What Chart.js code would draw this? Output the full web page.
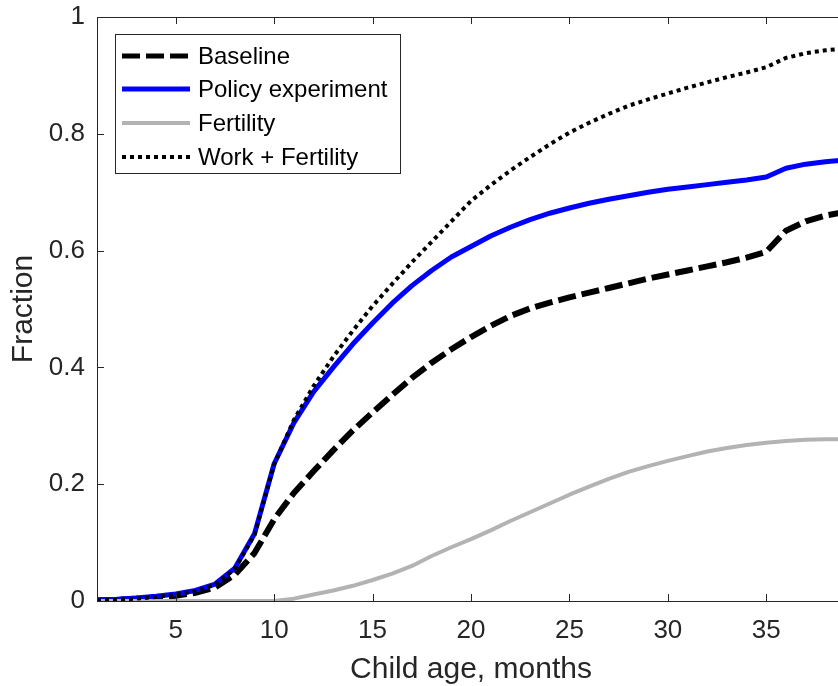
<!DOCTYPE html>
<html>
<head>
<meta charset="utf-8">
<script src="https://cdn.jsdelivr.net/npm/chart.js@4/dist/chart.umd.min.js"></script>
<style>
  html, body { margin: 0; padding: 0; background: #fff; overflow: hidden; }
  #wrap { width: 850px; height: 686px; }
</style>
</head>
<body>
<div id="wrap"><canvas id="chart" width="850" height="686"></canvas></div>
<script>
// child age in months
var months = [1, 2, 3, 4, 5, 6, 7, 8, 9, 10, 11, 12, 13, 14, 15, 16, 17, 18, 19, 20,
  21, 22, 23, 24, 25, 26, 27, 28, 29, 30, 31, 32, 33, 34, 35, 36, 37, 38, 39];

var baseline = [0.001, 0.002, 0.004, 0.006, 0.009, 0.014, 0.023, 0.045, 0.082, 0.14,
  0.185, 0.222, 0.258, 0.292, 0.323, 0.353, 0.382, 0.408, 0.431, 0.452,
  0.471, 0.488, 0.501, 0.511, 0.52, 0.528, 0.536, 0.544, 0.552, 0.559,
  0.566, 0.573, 0.58, 0.588, 0.598, 0.634, 0.65, 0.66, 0.666];

var policy = [0.002, 0.003, 0.005, 0.008, 0.012, 0.018, 0.029, 0.056, 0.115, 0.235,
  0.305, 0.358, 0.4, 0.44, 0.476, 0.51, 0.54, 0.566, 0.589, 0.607,
  0.625, 0.64, 0.653, 0.664, 0.673, 0.681, 0.688, 0.694, 0.7, 0.705,
  0.709, 0.713, 0.717, 0.721, 0.726, 0.741, 0.748, 0.752, 0.755];

var fertility = [0, 0, 0, 0, 0, 0, 0, 0, 0, 0,
  0.004, 0.011, 0.018, 0.026, 0.036, 0.047, 0.06, 0.077, 0.092, 0.106,
  0.121, 0.137, 0.152, 0.167, 0.182, 0.196, 0.209, 0.221, 0.231, 0.24,
  0.248, 0.256, 0.262, 0.267, 0.271, 0.274, 0.276, 0.277, 0.277];

var workFertility = [0.001, 0.002, 0.004, 0.007, 0.011, 0.017, 0.028, 0.055, 0.113, 0.234,
  0.31, 0.368, 0.418, 0.463, 0.505, 0.543, 0.58, 0.615, 0.65, 0.685,
  0.712, 0.737, 0.76, 0.782, 0.802, 0.819, 0.834, 0.848, 0.859, 0.869,
  0.879, 0.888, 0.897, 0.905, 0.914, 0.93, 0.938, 0.943, 0.946];

var xTicks = [5, 10, 15, 20, 25, 30, 35];
var yTicks = [0, 0.2, 0.4, 0.6, 0.8, 1];

var axisColor = '#262626';
var fontFamily = '"Liberation Sans", Arial, sans-serif';

function pts(ys) {
  return months.map(function (m, i) { return {x: m, y: ys[i]}; });
}

// matlab style box with inward ticks
var frame = {
  id: 'frame',
  afterDatasetsDraw: function (chart) {
    var ctx = chart.ctx, a = chart.chartArea;
    var xs = chart.scales.x, ys = chart.scales.y;
    var len = 7;
    ctx.save();
    ctx.strokeStyle = axisColor;
    ctx.lineWidth = 1;
    ctx.strokeRect(a.left + 0.5, a.top + 0.5, a.right - a.left, a.bottom - a.top);
    ctx.beginPath();
    xTicks.forEach(function (v) {
      var px = Math.round(xs.getPixelForValue(v)) + 0.5;
      ctx.moveTo(px, a.bottom); ctx.lineTo(px, a.bottom - len);
      ctx.moveTo(px, a.top); ctx.lineTo(px, a.top + len);
    });
    yTicks.forEach(function (v) {
      var py = Math.round(ys.getPixelForValue(v)) + 0.5;
      ctx.moveTo(a.left, py); ctx.lineTo(a.left + len, py);
      ctx.moveTo(a.right, py); ctx.lineTo(a.right - len, py);
    });
    ctx.stroke();
    ctx.restore();
  }
};

// legend box in the upper left of the plot
var boxLegend = {
  id: 'boxLegend',
  afterDraw: function (chart) {
    var ctx = chart.ctx;
    var x0 = 115, y0 = 34, w = 285, h = 139;
    var rowY = [56, 89, 123, 157];
    ctx.save();
    ctx.fillStyle = '#fff';
    ctx.fillRect(x0, y0, w, h);
    ctx.strokeStyle = axisColor;
    ctx.lineWidth = 1;
    ctx.strokeRect(x0 + 0.5, y0 + 0.5, w, h);
    chart.data.datasets.forEach(function (ds, i) {
      var y = rowY[i];
      ctx.beginPath();
      ctx.strokeStyle = ds.borderColor;
      ctx.lineWidth = ds.legendWidth;
      ctx.setLineDash(ds.borderDash || []);
      ctx.lineCap = 'butt';
      ctx.moveTo(122, y);
      ctx.lineTo(190, y);
      ctx.stroke();
      ctx.setLineDash([]);
      ctx.fillStyle = '#000';
      ctx.font = '24px ' + fontFamily;
      ctx.textBaseline = 'middle';
      ctx.textAlign = 'left';
      ctx.fillText(ds.label, 198, y + 1);
    });
    ctx.restore();
  }
};

new Chart(document.getElementById('chart'), {
  type: 'line',
  data: {
    datasets: [
      {label: 'Baseline', data: pts(baseline), borderColor: '#000000', borderWidth: 6,
        borderDash: [18, 6], legendWidth: 5, order: 4},
      {label: 'Policy experiment', data: pts(policy), borderColor: '#0000ff', borderWidth: 5,
        legendWidth: 5, order: 3},
      {label: 'Fertility', data: pts(fertility), borderColor: '#b3b3b3', borderWidth: 4,
        legendWidth: 4, order: 2},
      {label: 'Work + Fertility', data: pts(workFertility), borderColor: '#000000', borderWidth: 4,
        borderDash: [4, 4], legendWidth: 4, order: 1}
    ]
  },
  options: {
    responsive: false,
    animation: false,
    events: [],
    layout: {padding: {left: 0, top: 17, right: 5, bottom: 0}},
    elements: {
      point: {radius: 0},
      line: {tension: 0, fill: false, borderJoinStyle: 'round', borderCapStyle: 'butt'}
    },
    plugins: {
      legend: {display: false},
      tooltip: {enabled: false}
    },
    scales: {
      x: {
        type: 'linear',
        min: 1,
        max: 39,
        grid: {display: false, drawTicks: false},
        border: {display: false},
        afterBuildTicks: function (s) { s.ticks = xTicks.map(function (v) { return {value: v}; }); },
        afterFit: function (s) { s.height = 85; s.paddingLeft = 0; s.paddingRight = 0; },
        ticks: {color: axisColor, padding: 14, maxRotation: 0, font: {family: fontFamily, size: 26}},
        title: {display: true, text: 'Child age, months', color: axisColor,
          padding: {top: 0, bottom: 1}, font: {family: fontFamily, size: 30, lineHeight: 1}}
      },
      y: {
        min: 0,
        max: 1,
        grid: {display: false, drawTicks: false},
        border: {display: false},
        afterBuildTicks: function (s) { s.ticks = yTicks.map(function (v) { return {value: v}; }); },
        afterFit: function (s) { s.width = 97; s.paddingTop = 0; s.paddingBottom = 0; },
        ticks: {color: axisColor, padding: 12, font: {family: fontFamily, size: 26},
          callback: function (v) { return String(v); }},
        title: {display: true, text: 'Fraction', color: axisColor,
          padding: {top: 9, bottom: 0}, font: {family: fontFamily, size: 30, lineHeight: 1}}
      }
    }
  },
  plugins: [frame, boxLegend]
});
</script>
</body>
</html>
